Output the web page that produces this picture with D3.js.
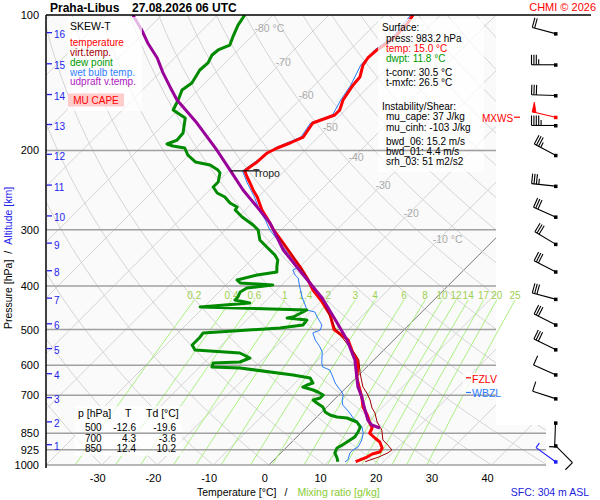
<!DOCTYPE html>
<html><head><meta charset="utf-8">
<script src="https://cdn.jsdelivr.net/npm/d3@7"></script>
<style>body{margin:0;background:#fff;} svg{display:block;font-family:"Liberation Sans",Arial,sans-serif;}</style>
</head><body><svg id="c" width="600" height="500"></svg>
<script>
// ---------- data ----------
const pressureTicks = [100,200,300,400,500,600,700,850,925,1000];
const tempTicks = [-30,-20,-10,0,10,20,30,40];
const isothermLabelT = [-80,-70,-60,-50,-40,-30,-20,-10];
const mixingRatios = [0.2,0.4,0.6,1,1.4,2,3,4,6,8,10,12,14,17,20,25];
const kmLevels   = [1,2,3,4,5,6,7,8,9,10,11,12,13,14,15,16];
const kmPressure = [906,806,712,630,554,488,428,372,323,281,240,205,176,151,129,110];
const windDir = [135,182,288,294,296,297,285,297,301,294,276,298,270,272,270,285];
const windSpd = [10,5,10,10,30,30,30,30,30,30,35,35,45,30,35,20];
const sfcWind = {p:983.2, dir:306, spd:3};
const maxWind = {p:168.7, dir:283, spd:50};
const tropoP = 222;
const fzlvP = 640, wbzlP = 690;

const tempP = [100,104.2,110.8,115.4,119.6,124.6,129.2,137.3,143,154.5,162.6,166.8,173.8,186.7,192.5,197.5,202.6,212.1,217.6,222.2,229.1,236.2,244.8,253.7,271.3,285.5,299,321.1,345,363.1,384.1,408.4,434.2,464.2,500,527.5,563.7,584.3,605.6,637.5,670.9,706.3,743.2,774.3,806.6,827.5,850,871,889,916.6,935.7,945.4,960,983.2];
const tempT = [-54.9,-54.4,-54.2,-54.5,-55.1,-55.3,-54.9,-53.3,-53.1,-52.2,-51.0,-51.0,-53.5,-52.7,-54.0,-55.4,-56.3,-56.5,-56.9,-57.1,-55.6,-54.0,-52.2,-50.2,-47.0,-44.1,-41.6,-37.3,-33.0,-29.9,-26.7,-23.5,-19.7,-15.9,-12.6,-8.2,-5.0,-3.0,-1.6,0.0,2.2,4.5,6.5,8.7,10.6,11.9,12.4,14.2,15.8,17.3,17.6,16.6,16.2,15.0];

const virtP = [300,345,384,434,500,564,584,625,671,692,717,747,766,802,823,836,880,903,926,940,960,983.2];
const virtT = [-41.5,-32.9,-26.6,-19.5,-12.3,-4.7,-2.7,-0.1,2.9,4.7,6.5,8.3,9.7,11.7,13.1,14.0,16.0,17.8,19.4,19.2,18.3,16.7];

const dewP = [100,105.3,111.9,116.6,119.6,122.7,127.8,132.5,141.6,146.8,154.5,162.6,169.4,182.9,189.6,193.5,195.5,197.5,204.7,212.1,215.4,221.0,224.4,235.0,241.1,248.6,253.8,261.7,267.1,271.3,281.2,292.9,300.5,316.2,327.8,341.5,350.3,363.1,372.5,378.3,388.1,394.1,398.1,404.3,412.6,423.3,429.8,436.5,445.5,452.4,468.9,471.3,476.2,488.5,496.1,508.9,519.4,541.2,555.2,563.8,578.4,590.4,593.4,605.7,608.8,631.0,640.7,657.4,664.1,670.9,681.3,688.3,698.9,709.8,717.1,728.2,743.2,762.5,774.3,782.2,786.3,802.5,823.3,844.6,866.4,888.9,902.7,916.6,940.3,964.8,983.2];
const dewT = [-85.1,-84.5,-83.3,-82.4,-83.6,-83.8,-83.1,-83.3,-82.4,-82.9,-81.8,-80.9,-77.3,-75.0,-74.8,-75.9,-74.5,-72.0,-70.2,-67.6,-64.4,-62.1,-61.2,-59.9,-59.9,-58.1,-56.0,-54.0,-52.0,-51.8,-49.3,-45.9,-44.1,-42.0,-39.5,-36.6,-35.2,-34.1,-33.2,-36.2,-38.9,-37.8,-31.6,-35.7,-36.2,-35.7,-35.7,-32.5,-40.7,-21.0,-22.2,-23.1,-19.2,-19.0,-22.6,-35.5,-35.3,-35.3,-33.9,-25.3,-22.6,-23.7,-28.3,-27.8,-22.6,-11.8,-8.2,-6.8,-7.5,-7.9,-5.5,-4.3,-2.8,-2.8,-3.7,-2.5,-0.7,0.6,2.0,3.6,5.6,8.1,9.6,10.1,10.4,9.9,9.6,9.2,9.7,11.0,11.8];

const wetP = [100,110.8,119.6,129.2,143,154.5,166.8,173.8,186.7,197.5,212.1,222.2,236.2,253.7,271.3,285.5,300.5,321.1,345,355.7,364.9,368.7,378.3,384.1,402.2,423.3,441.0,452.4,457.1,468.9,488.5,501.2,508.9,527.5,546.7,560.9,593.4,605.7,615.1,637.4,657.4,670.9,688.3,698.9,717.1,735.6,754.7,766.4,786.3,802.5,823.3,848.9,879.9,912,926.1,940.3,974.7,983.2];
const wetT = [-55.3,-54.6,-55.5,-55.3,-53.5,-52.6,-51.4,-53.9,-53.1,-55.8,-56.9,-57.5,-54.5,-50.7,-47.5,-44.6,-42.0,-37.8,-33.4,-31.6,-30.3,-30.7,-29.4,-28.3,-26.4,-24.2,-22.2,-21.0,-19.2,-17.9,-15.6,-15.0,-15.8,-14.1,-12.0,-10.7,-8.8,-7.9,-6.1,-4.3,-2.8,-1.6,0.0,0.8,1.5,2.5,4.2,5.2,6.7,8.3,9.9,11.2,12.2,12.8,12.4,12.4,13.3,13.1];

const parcelP = [100,108,115.4,124.6,133.9,144.5,154.5,173.8,199.5,221.1,244.8,267.1,290,332.8,363.1,394,425.6,483.6,527.5,584.3,637.5,670.9,706.3,754.7,794.3,814.9,827.5];
const parcelT = [-105.2,-100.9,-97.5,-93.1,-89.6,-85.6,-82.0,-74.3,-65.9,-59.9,-54.0,-48.4,-43.2,-36.0,-30.5,-25.3,-20.4,-13.2,-8.4,-3.4,0.0,2.0,4.5,7.4,9.7,11.3,13.3];

const tableP = [500,700,850];
const tableT = [-12.6,4.3,12.4];
const tableTd = [-19.6,-3.6,10.2];

const surfaceLines = [
  {t:"Surface:", c:"#000", ind:0},
  {t:"press: 983.2 hPa", c:"#000", ind:1},
  {t:"temp: 15.0 °C", c:"#ff0000", ind:1},
  {t:"dwpt: 11.8 °C", c:"#009900", ind:1},
  {t:"t-conv: 30.5 °C", c:"#000", ind:1, gap:1},
  {t:"t-mxfc: 26.5 °C", c:"#000", ind:1},
  {t:"Instability/Shear:", c:"#000", ind:0, gap:2},
  {t:"mu_cape: 37 J/kg", c:"#000", ind:1},
  {t:"mu_cinh: -103 J/kg", c:"#000", ind:1},
  {t:"bwd_06: 15.2 m/s", c:"#000", ind:1, gap:1},
  {t:"bwd_01: 4.4 m/s", c:"#000", ind:1},
  {t:"srh_03: 51 m2/s2", c:"#000", ind:1}
];
const legendItems = [
  {t:"temperature", c:"#ff0000"},
  {t:"virt.temp.", c:"#a00000"},
  {t:"dew point", c:"#009900"},
  {t:"wet bulb temp.", c:"#3380ff"},
  {t:"udpraft v.temp.", c:"#b020c0"}
];

// ---------- scales ----------
const svg = d3.select("#c");
const y = d3.scaleLog().domain([100,1000]).range([15,465]);
const xs = d3.scaleLinear().domain([-40,40]).range([46,46+80*5.57]);
const X = (T,p) => xs(T) + (465 - y(p));
const FS = 10;

const defs = svg.append("defs");
defs.append("clipPath").attr("id","plotclip").append("path")
  .attr("d","M46,15H496V425H546V465H46Z");
defs.append("clipPath").attr("id","leftclip").append("rect")
  .attr("x",46).attr("y",15).attr("width",560).attr("height",450);

svg.append("path").attr("d","M46,15H496V425H546V465H46Z").attr("fill","#fafafa");

const grid = svg.append("g").attr("clip-path","url(#plotclip)");
d3.range(-130,50,10).forEach(T=>{
  grid.append("line").attr("x1",X(T,1000)).attr("y1",y(1000)).attr("x2",X(T,100)).attr("y2",y(100))
    .attr("stroke", T===0 ? "#777" : "#d4d4d4").attr("stroke-width",1);
});
const pSamp = d3.range(1000,99,-10);
const lineGen = d3.line().x(d=>d[0]).y(d=>d[1]);
d3.range(-40,190,10).forEach(th=>{
  const pts = pSamp.map(p=>[X((th+273.15)*Math.pow(p/1000,0.2857)-273.15,p), y(p)]);
  grid.append("path").attr("d",lineGen(pts)).attr("fill","none").attr("stroke","#d4d4d4").attr("stroke-width",1);
});

function tdFromW(w,p){const e=w*p/(622+w);const l=Math.log(e/6.112);return 243.5*l/(17.67-l);}
const mixG = svg.append("g").attr("clip-path","url(#leftclip)");
const mixTop = 430;
mixingRatios.forEach(w=>{
  const pts = d3.range(1000,mixTop-1,-10).map(p=>[X(tdFromW(w,p),p), y(p)]);
  mixG.append("path").attr("d",lineGen(pts)).attr("fill","none").attr("stroke","#a8f080").attr("stroke-width",1);
  svg.append("text").attr("x",X(tdFromW(w,mixTop),mixTop)).attr("y",y(mixTop)-5)
    .attr("text-anchor","middle").attr("dominant-baseline","central")
    .attr("font-size",FS).attr("fill","#9cd050").text(w);
});

isothermLabelT.forEach(T=>{
  const p = 1000*Math.pow((T+273.15)/366,1/0.2857);
  svg.append("text").attr("x",X(T,p)-6).attr("y",y(p))
    .attr("dominant-baseline","central").attr("font-size",10.5).attr("fill","#aaa")
    .text((T===-80||T===-10) ? T+" °C" : T);
});

function drawIsobars(g){
  pressureTicks.forEach(p=>{
    if(p===100) return;
    g.append("line").attr("x1",46).attr("x2",p>=850?546:496).attr("y1",y(p)).attr("y2",y(p))
      .attr("stroke","#a0a0a0").attr("stroke-width",1.5);
  });
}
drawIsobars(svg.append("g"));

const prof = svg.append("g").attr("clip-path","url(#leftclip)");
function profile(P,T,color,w){
  const pts = P.map((p,i)=>[X(T[i],p), y(p)]);
  prof.append("path").attr("d",lineGen(pts)).attr("fill","none").attr("stroke",color)
    .attr("stroke-width",w).attr("stroke-linejoin","round");
}
profile(wetP,wetT,"#2a7bff",1);
profile(dewP,dewT,"#008a00",3);
profile(tempP,tempT,"#ff0000",3);
profile(virtP,virtT,"#a00000",1);
profile(parcelP,parcelT,"#990099",3);

svg.append("line").attr("x1",X(-57.1,tropoP)-14).attr("x2",X(-57.1,tropoP)+15).attr("y1",y(tropoP)).attr("y2",y(tropoP))
  .attr("stroke","#000").attr("stroke-width",1.2);
svg.append("text").attr("x",X(-57.1,tropoP)+8).attr("y",y(tropoP)+2).attr("dominant-baseline","central")
  .attr("font-size",10.5).attr("fill","#222").text("Tropo");

const boxes = [[68,17,74,94],[378,19,106,153],[75,406,107,50],[463,373,45,25]];
const bx = svg.append("g");
boxes.forEach(b=>bx.append("rect").attr("x",b[0]).attr("y",b[1]).attr("width",b[2]).attr("height",b[3])
  .attr("fill","#fff").attr("fill-opacity",0.72));
const bclip = defs.append("clipPath").attr("id","boxclip");
boxes.forEach(b=>bclip.append("rect").attr("x",b[0]).attr("y",b[1]).attr("width",b[2]).attr("height",b[3]));
drawIsobars(svg.append("g").attr("clip-path","url(#boxclip)"));

svg.append("line").attr("x1",46).attr("x2",591).attr("y1",15).attr("y2",15).attr("stroke","#000").attr("stroke-width",1.5);
svg.append("line").attr("x1",46).attr("x2",46).attr("y1",15).attr("y2",468).attr("stroke","#000").attr("stroke-width",1.5);

pressureTicks.forEach(p=>{
  svg.append("text").attr("x",39).attr("y",y(p)).attr("text-anchor","end").attr("dominant-baseline","central")
    .attr("font-size",11).attr("fill","#000").text(p);
});
kmLevels.forEach((k,i)=>{
  const yy = y(kmPressure[i]);
  svg.append("line").attr("x1",47).attr("x2",52).attr("y1",yy-1).attr("y2",yy-1).attr("stroke","#2222ee").attr("stroke-width",1.3);
  svg.append("text").attr("x",54).attr("y",yy+1).attr("dominant-baseline","central")
    .attr("font-size",FS).attr("fill","#2222ee").text(k);
});
tempTicks.forEach(T=>{
  svg.append("text").attr("x",xs(T)-4).attr("y",478).attr("text-anchor","middle").attr("dominant-baseline","central")
    .attr("font-size",11).attr("fill","#000").text(T);
});

const yt = svg.append("text").attr("transform","translate(12,258) rotate(-90)").attr("text-anchor","middle").attr("font-size",10.5);
yt.append("tspan").attr("fill","#000").text("Pressure [hPa]");
yt.append("tspan").attr("dx",6).attr("fill","#000").text("/");
yt.append("tspan").attr("dx",6).attr("fill","#2222ee").text("Altitude [km]");
const xt = svg.append("text").attr("x",197).attr("y",496).attr("font-size",10.5);
xt.append("tspan").attr("fill","#000").text("Temperature [°C]");
xt.append("tspan").attr("dx",8).attr("fill","#000").text("/");
xt.append("tspan").attr("dx",10).attr("fill","#88cc33").text("Mixing ratio [g/kg]");

svg.append("text").attr("x",50).attr("y",11.5).attr("font-size",12).attr("font-weight","bold").text("Praha-Libus");
svg.append("text").attr("x",132).attr("y",11.5).attr("font-size",12).attr("font-weight","bold").text("27.08.2026 06 UTC");
svg.append("text").attr("x",596).attr("y",11).attr("text-anchor","end").attr("font-size",11).attr("fill","#ff0000").text("CHMI © 2026");
svg.append("text").attr("x",589).attr("y",492).attr("text-anchor","end").attr("dominant-baseline","central")
  .attr("font-size",10.5).attr("fill","#2222dd").text("SFC: 304 m ASL");

svg.append("text").attr("x",70).attr("y",25.5).attr("dominant-baseline","central").attr("font-size",10.5).text("SKEW-T");
legendItems.forEach((d,i)=>{
  svg.append("text").attr("x",70).attr("y",42.3+i*9.9).attr("dominant-baseline","central")
    .attr("font-size",FS).attr("fill",d.c).text(d.t);
});
svg.append("rect").attr("x",68).attr("y",93.5).attr("width",56).attr("height",13).attr("fill","#ffcccc");
svg.append("text").attr("x",96).attr("y",100.5).attr("text-anchor","middle").attr("dominant-baseline","central")
  .attr("font-size",FS).attr("fill","#ff0000").text("MU CAPE");

let sy = 27.7;
surfaceLines.forEach((d,i)=>{
  if(i>0) sy += 10.3 + (d.gap===1?3.6:0) + (d.gap===2?13.5:0);
  svg.append("text").attr("x",d.ind?386:382).attr("y",sy).attr("dominant-baseline","central")
    .attr("font-size",FS).attr("fill",d.c).text(d.t);
});

const th = [["p [hPa]",78,"start"],["T",125,"start"],["Td [°C]",146,"start"]];
th.forEach(h=>svg.append("text").attr("x",h[1]).attr("y",413).attr("text-anchor",h[2]).attr("dominant-baseline","central").attr("font-size",10.5).text(h[0]));
tableP.forEach((p,i)=>{
  const yy = 427.5 + i*10.6;
  svg.append("text").attr("x",85).attr("y",yy).attr("dominant-baseline","central").attr("font-size",FS).text(p);
  svg.append("text").attr("x",136).attr("y",yy).attr("text-anchor","end").attr("dominant-baseline","central").attr("font-size",FS).text(tableT[i].toFixed(1));
  svg.append("text").attr("x",176).attr("y",yy).attr("text-anchor","end").attr("dominant-baseline","central").attr("font-size",FS).text(tableTd[i].toFixed(1));
});

[[fzlvP,"FZLV","#ff0000"],[wbzlP,"WBZL","#2a7bff"]].forEach(d=>{
  const yy = y(d[0]);
  svg.append("line").attr("x1",466).attr("x2",471).attr("y1",yy).attr("y2",yy).attr("stroke",d[2]).attr("stroke-width",1.2);
  svg.append("text").attr("x",472).attr("y",yy+1).attr("dominant-baseline","central").attr("font-size",10.5).attr("fill",d[2]).text(d[1]);
});

const bg = svg.append("g");
function barb(x,yy,dir,spd,color){
  const r = dir*Math.PI/180, ux=Math.sin(r), uy=-Math.cos(r), L=24;
  const tx=x+L*ux, ty=yy+L*uy, vx=-uy, vy=ux;
  bg.append("line").attr("x1",x).attr("y1",yy).attr("x2",tx).attr("y2",ty).attr("stroke",color).attr("stroke-width",1.1);
  bg.append("rect").attr("x",x-1.5).attr("y",yy-1.5).attr("width",3.5).attr("height",3.5).attr("fill",color);
  let s = Math.round(spd/5)*5, pos=0;
  const sp=2.4, full=10, half=5.5;
  while(s>=50){
    const ax=tx-pos*ux, ay=ty-pos*uy;
    bg.append("path").attr("d",`M${ax},${ay}L${ax+full*vx},${ay+full*vy}L${ax-4*ux},${ay-4*uy}Z`).attr("fill",color).attr("stroke",color).attr("stroke-width",0.8);
    pos+=5; s-=50;
  }
  while(s>=10){
    const ax=tx-pos*ux, ay=ty-pos*uy;
    bg.append("line").attr("x1",ax).attr("y1",ay).attr("x2",ax+full*vx).attr("y2",ay+full*vy).attr("stroke",color).attr("stroke-width",1.1);
    pos+=sp; s-=10;
  }
  if(s>=5){
    const ax=tx-pos*ux, ay=ty-pos*uy;
    bg.append("line").attr("x1",ax).attr("y1",ay).attr("x2",ax+half*vx).attr("y2",ay+half*vy).attr("stroke",color).attr("stroke-width",1.1);
  }
}
kmLevels.forEach((k,i)=>barb(555.5,y(kmPressure[i]),windDir[i],windSpd[i],"#000"));
barb(555.5,y(sfcWind.p),sfcWind.dir,sfcWind.spd,"#1a1aff");
barb(555.5,y(maxWind.p),maxWind.dir,maxWind.spd,"#ff0000");
svg.append("text").attr("x",482).attr("y",y(maxWind.p)+1).attr("dominant-baseline","central").attr("font-size",FS).attr("fill","#ff0000").text("MXWS");
svg.append("line").attr("x1",514).attr("x2",520).attr("y1",y(maxWind.p)).attr("y2",y(maxWind.p)).attr("stroke","#ff0000").attr("stroke-width",1.2);
</script></body></html>
